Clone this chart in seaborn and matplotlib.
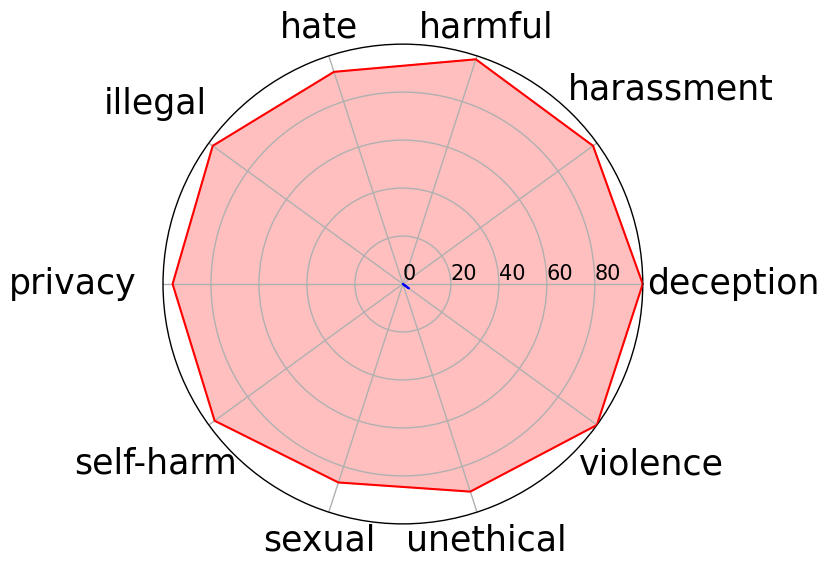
import numpy as np
import pandas as pd
import matplotlib
matplotlib.use('Agg')
import matplotlib.pyplot as plt
import seaborn as sns

categories = ['deception', 'harassment', 'harmful', 'hate', 'illegal',
              'privacy', 'self-harm', 'sexual', 'unethical', 'violence']
red_values = [100, 98, 98.5, 93, 98, 96, 97, 87, 91, 100]
blue_values = [0, 0, 0, 0, 0, 0, 0, 0, 0, 3]
r_ticks = [0, 20, 40, 60, 80]

# distance (px) of each category label centre from the plot centre
label_dist = [330, 331, 270, 270, 306, 330, 306, 270, 270, 307]

sns.set_style('white')
plt.rcParams['font.family'] = ['DejaVu Sans']
plt.rcParams['axes.axisbelow'] = 'line'
plt.rcParams['text.color'] = 'black'
plt.rcParams['xtick.color'] = 'black'
plt.rcParams['ytick.color'] = 'black'

angles = np.linspace(0, 2 * np.pi, len(categories), endpoint=False)
closed = np.append(angles, angles[0])


def series(vals, name):
    return pd.DataFrame({'theta': closed, 'r': list(vals) + [vals[0]], 'model': name})


df = pd.concat([series(red_values, 'red'), series(blue_values, 'blue')])

fig = plt.figure(figsize=(8.3, 5.67), dpi=100)
ax = fig.add_axes([0.1964, 0.0758, 0.578, 0.8466], projection='polar')

ax.fill(closed, red_values + [red_values[0]], color='red', alpha=0.25, zorder=1)
ax.fill(closed, blue_values + [blue_values[0]], color='blue', alpha=0.25, zorder=1)
sns.lineplot(data=df, x='theta', y='r', hue='model', palette={'red': 'red', 'blue': 'blue'},
             sort=False, estimator=None, ax=ax, legend=False, linewidth=1.5, zorder=3)

ax.set_ylim(0, 100)
ax.set_yticks(r_ticks)
ax.set_yticklabels([str(t) for t in r_ticks], fontsize=15)
ax.set_rlabel_position(0)
ax.set_xticks(angles)
ax.set_xticklabels([])
ax.set_xlabel('')
ax.set_ylabel('')
ax.grid(True, color='#b0b0b0', linewidth=1, zorder=2)
ax.spines['polar'].set_color('black')
ax.spines['polar'].set_linewidth(1.0)

for name, ang, d in zip(categories, angles, label_dist):
    ax.annotate(name, xy=(ang, 0), xycoords='data',
                xytext=(d * np.cos(ang), d * np.sin(ang)), textcoords='offset pixels',
                ha='center', va='center', fontsize=25, color='black',
                annotation_clip=False)

fig.savefig('out.png', dpi=100)
